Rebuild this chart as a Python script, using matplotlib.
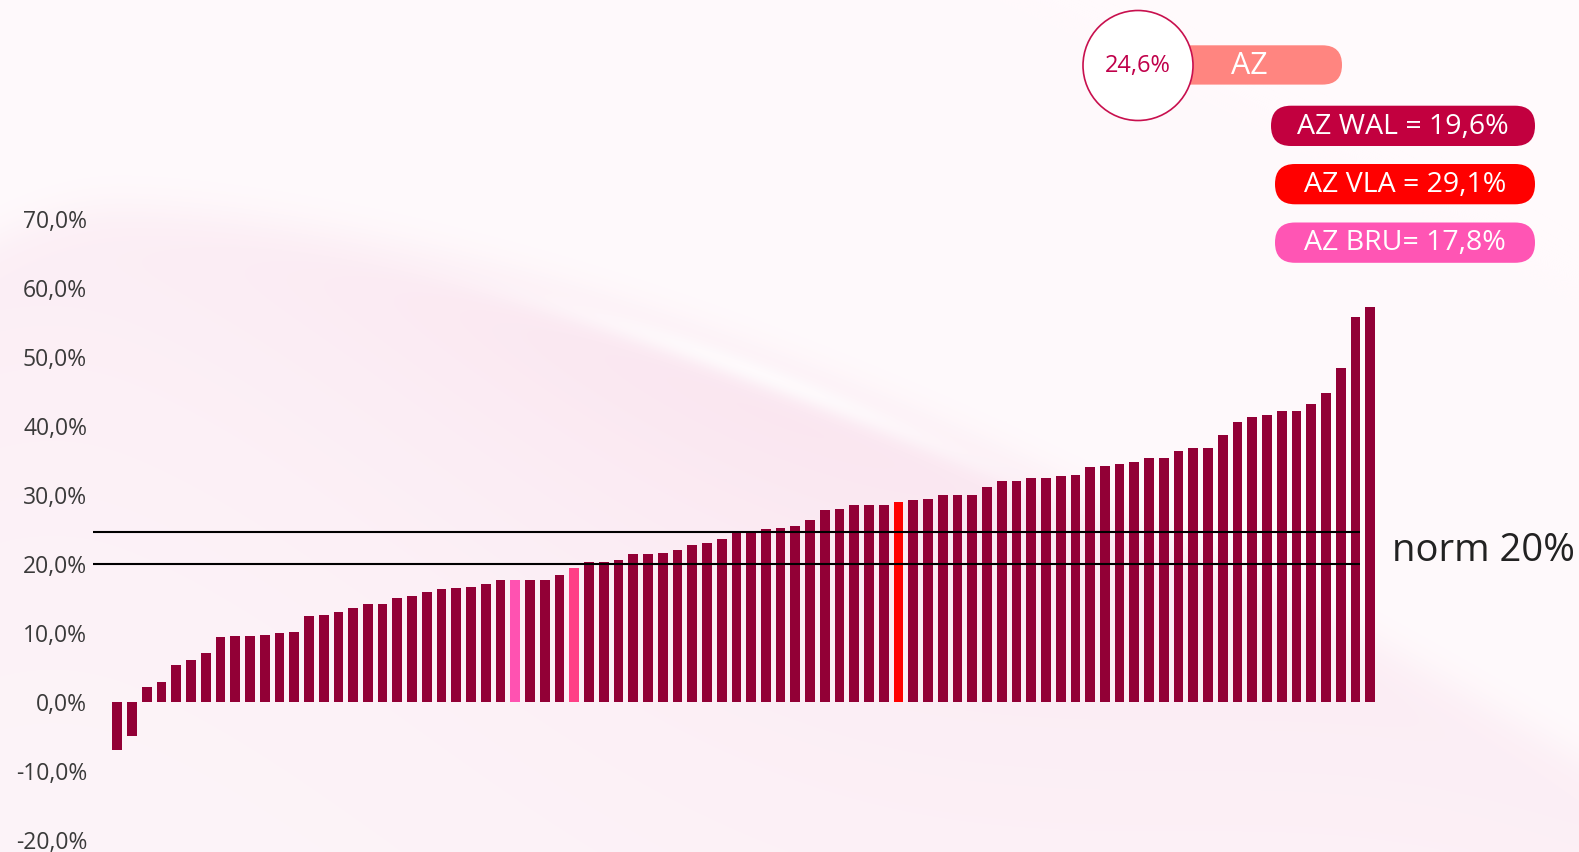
import numpy as np
import matplotlib
matplotlib.use('Agg')
import matplotlib.pyplot as plt
from matplotlib.patches import FancyBboxPatch, Circle
from matplotlib.colors import to_rgb

plt.rcParams['font.family'] = ['Open Sans', 'DejaVu Sans']

# bar values (%), sorted, one per entity
values = [-7.0, -5.0, 2.1, 2.9, 5.3, 6.1, 7.0, 9.4, 9.5, 9.5,
          9.6, 10.0, 10.1, 12.4, 12.6, 13.0, 13.6, 14.1, 14.1, 15.0,
          15.3, 15.9, 16.3, 16.5, 16.6, 17.1, 17.6, 17.7, 17.7, 17.7,
          18.3, 19.4, 20.2, 20.2, 20.6, 21.4, 21.4, 21.6, 22.0, 22.7,
          23.0, 23.6, 24.5, 24.8, 25.0, 25.2, 25.4, 26.3, 27.8, 28.0,
          28.5, 28.5, 28.5, 29.0, 29.2, 29.4, 29.9, 29.9, 30.0, 31.1,
          32.0, 32.0, 32.4, 32.4, 32.7, 32.8, 34.0, 34.2, 34.4, 34.8,
          35.3, 35.3, 36.3, 36.8, 36.8, 38.6, 40.5, 41.3, 41.6, 42.1,
          42.2, 43.2, 44.7, 48.3, 55.8, 57.2]
bru_idx = [27]
wal_idx = [31]
vla_idx = [53]

tick_vals = [-20, -10, 0, 10, 20, 30, 40, 50, 60, 70]
tick_labels = ['-20,0%', '-10,0%', '0,0%', '10,0%', '20,0%',
               '30,0%', '40,0%', '50,0%', '60,0%', '70,0%']
norm_line = 20.0
az_line = 24.6
az_label = '24,6%'
badge_texts = ['AZ WAL = 19,6%', 'AZ VLA = 29,1%', 'AZ BRU= 17,8%']
badge_colors = ['#C2003F', '#FF0000', '#FF55B4']

bar_color = '#920036'
colors = [bar_color] * len(values)
for i in bru_idx:
    colors[i] = '#FF52B1'
for i in wal_idx:
    colors[i] = '#FF3F86'
for i in vla_idx:
    colors[i] = '#FF0000'

W, H = 1579, 852
fig = plt.figure(figsize=(W / 100, H / 100), dpi=100)

# background: soft pink wash below a sweeping curve
bg = fig.add_axes([0, 0, 1, 1], zorder=0)
xs = np.arange(W, dtype=float)
ys = np.arange(H, dtype=float)
X, Y = np.meshgrid(xs, ys)
curve = np.where(xs > 120, 210 + 550 * (np.clip(xs - 120, 0, None) / 1460.0) ** 1.55,
                 210 + 0.002 * (120 - xs) ** 2)
d = Y - curve[None, :]
top = np.array(to_rgb('#FFFAFC'))
pink = np.array(to_rgb('#FAE4EF'))
light = np.array(to_rgb('#FDF5F9'))
edge = 1 / (1 + np.exp(-d / 14.0))
strength = 0.4 + 0.6 * np.exp(-((X - 780) / 480.0) ** 2)
t = edge * np.exp(-np.clip(d, 0, None) / 330.0) * strength
base = top[None, None, :] * (1 - edge[..., None]) + light[None, None, :] * edge[..., None]
img = base + (pink - light)[None, None, :] * t[..., None]
hl = np.exp(-((d - 10) / 14.0) ** 2) * np.exp(-((X - 760) / 230.0) ** 2) * 0.75
img = img * (1 - hl[..., None]) + hl[..., None]
bg.imshow(np.clip(img, 0, 1), extent=(0, W, H, 0), aspect='auto')
bg.set_xlim(0, W)
bg.set_ylim(H, 0)
bg.axis('off')

# main bar chart
x0_px, step_px = 117.3, 14.74
left_px = 92.6
ax = fig.add_axes([left_px / W, (H - 839.7) / H, 1 - left_px / W, (839.7 - 218.7) / H], zorder=2)
ax.patch.set_alpha(0)
idx = np.arange(len(values))
ax.bar(idx, values, width=0.66, color=colors, zorder=2)
xl = (left_px - x0_px) / step_px
ax.set_xlim(xl, (W - x0_px) / step_px)
ax.set_ylim(-20, 70)
ax.hlines([az_line, norm_line], xl, (1360 - x0_px) / step_px, color='black', lw=1.5, zorder=3)
ax.set_yticks(tick_vals)
ax.set_yticklabels(tick_labels, fontsize=16.5, color='#3A3A3A')
ax.tick_params(axis='y', length=0, pad=4)
ax.set_xticks([])
for s in ax.spines.values():
    s.set_visible(False)
ax.text((1392 - x0_px) / step_px, norm_line + 1.9, 'norm 20%', fontsize=27.5,
        color='#222222', va='center', ha='left')

# annotation badges (pixel coordinates)
ov = fig.add_axes([0, 0, 1, 1], zorder=5)
ov.set_xlim(0, W)
ov.set_ylim(H, 0)
ov.axis('off')
ov.add_patch(FancyBboxPatch((1150, 45.3), 1342 - 1150, 39.3,
                            boxstyle='round,pad=0,rounding_size=19.6',
                            fc='#FF8580', ec='none'))
ov.text(1249, 66, 'AZ', fontsize=22, color='white', ha='center', va='center')
ov.add_patch(Circle((1138, 65.5), 55, fc='white', ec='#C8104E', lw=1.2))
ov.text(1138, 66, az_label, fontsize=17, color='#C0004A', ha='center', va='center')

badge_tops = [105.7, 164.0, 222.5]
badge_lefts = [1271, 1275, 1275]
for txt, col, top_px, lft in zip(badge_texts, badge_colors, badge_tops, badge_lefts):
    ov.add_patch(FancyBboxPatch((lft, top_px), 1535 - lft, 40.3,
                                boxstyle='round,pad=0,rounding_size=20',
                                fc=col, ec='none'))
    ov.text((lft + 1535) / 2, top_px + 21, txt, fontsize=20.5, color='white',
            ha='center', va='center')

fig.savefig('out.png', dpi=100)
